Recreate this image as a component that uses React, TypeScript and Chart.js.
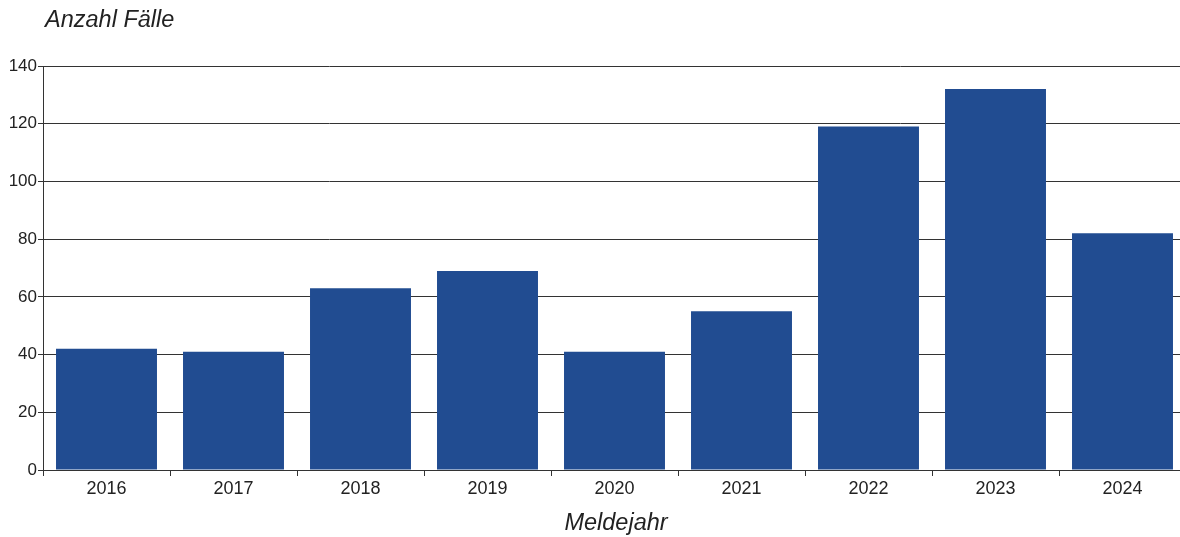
import React, { useEffect, useRef } from "react";
import { Chart, registerables } from "chart.js";

Chart.register(...registerables);

const years = ["2016", "2017", "2018", "2019", "2020", "2021", "2022", "2023", "2024"];
const cases = [42, 41, 63, 69, 41, 55, 119, 132, 82];
const yTitle = "Anzahl Fälle";
const xTitle = "Meldejahr";

const FONT = "'Liberation Sans', Arial, sans-serif";

const titlesPlugin = {
  id: "titlesPlugin",
  afterDraw(chart: any) {
    const ctx = chart.ctx;
    const area = chart.chartArea;
    ctx.save();
    ctx.fillStyle = "#222";
    ctx.font = `italic 23.5px ${FONT}`;
    ctx.textBaseline = "middle";
    ctx.textAlign = "left";
    ctx.fillText(yTitle, area.left + 2, 20);
    ctx.textAlign = "center";
    ctx.fillText(xTitle, 616, 523);
    ctx.restore();
  },
};

export default function App() {
  const ref = useRef<HTMLCanvasElement | null>(null);
  useEffect(() => {
    if (!ref.current) return;
    const chart = new Chart(ref.current, {
      type: "bar",
      data: {
        labels: years,
        datasets: [
          {
            data: cases,
            backgroundColor: "#214c91",
            borderWidth: 0,
            barPercentage: 0.795,
            categoryPercentage: 1,
          },
        ],
      },
      options: {
        responsive: false,
        animation: false,
        layout: { padding: { left: 0, right: 4, top: 66, bottom: 0 } },
        plugins: { legend: { display: false }, tooltip: { enabled: false }, title: { display: false } },
        scales: {
          x: {
            grid: { display: true, drawOnChartArea: false, drawTicks: true, tickLength: 6, color: "#333", offset: true },
            border: { display: true, color: "#333", width: 1 },
            ticks: { color: "#222", font: { family: FONT, size: 18 }, padding: 2, maxRotation: 0 },
            afterFit: (s: any) => { s.height = 67; },
          },
          y: {
            min: 0,
            max: 140,
            ticks: { stepSize: 20, color: "#222", font: { family: FONT, size: 17 }, padding: 1 },
            grid: { color: "#333", lineWidth: 1, tickLength: 5, drawTicks: true },
            border: { display: true, color: "#333", width: 1 },
            afterFit: (s: any) => { s.width = 43; },
          },
        },
      },
      plugins: [titlesPlugin],
    });
    return () => chart.destroy();
  }, []);
  return (
    <div style={{ position: "fixed", left: 0, top: 0, width: 1180, height: 537, overflow: "hidden", background: "#fff" }}>
      <canvas ref={ref} width={1190} height={537} style={{ width: 1190, height: 537 }} />
    </div>
  );
}
